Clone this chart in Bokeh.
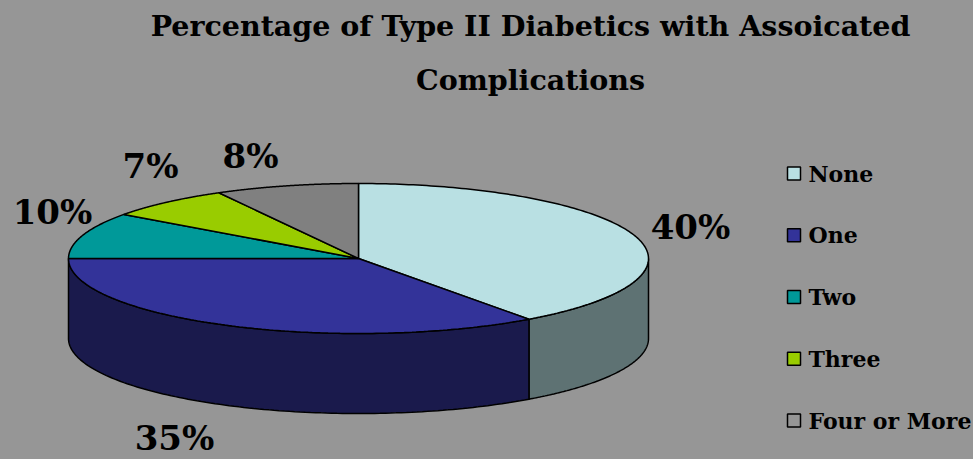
import numpy as np
from bokeh.plotting import figure
from bokeh.models import Range1d
from bokeh.core.properties import value
from bokeh.embed import file_html
from bokeh.resources import INLINE

# ---- data ----
categories = ["None", "One", "Two", "Three", "Four or More"]
values = [40, 35, 10, 7, 8]
pct_labels = ["40%", "35%", "10%", "7%", "8%"]

# ---- styling / layout ----
top_colors = ["#B9E0E3", "#333399", "#009999", "#99CC00", "#808080"]
side_colors = ["#5E7273", "#1A1A4C", "#004C4C", "#4C6600", "#404040"]
legend_colors = ["#B9E0E3", "#333399", "#009999", "#99CC00", "#969696"]
BG = "#969696"
FONT = value("DejaVu Serif")

W, H = 973, 459
cx, cy, rx, ry, depth = 358.0, 258.0, 290.0, 75.0, 80.0
label_pos = [(690, 226), (174, 437), (52, 211), (150, 165), (250, 155)]

p = figure(width=W, height=H, output_backend="svg", toolbar_location=None,
           x_range=Range1d(0, W), y_range=Range1d(H, 0),
           min_border=0, outline_line_color=None,
           background_fill_color=BG, border_fill_color=BG)
p.axis.visible = False
p.grid.visible = False

def ept(t, dy=0.0):
    return cx + rx * np.sin(t), cy - ry * np.cos(t) + dy

total = float(sum(values))
fr = np.cumsum([0.0] + [v / total for v in values])
angles = fr * 2 * np.pi

# side walls (front half: pi/2 .. 3pi/2)
sx, sy, sc = [], [], []
for i in range(len(values)):
    a = max(angles[i], np.pi / 2)
    b = min(angles[i + 1], 3 * np.pi / 2)
    if b > a:
        t = np.linspace(a, b, 120)
        x1, y1 = ept(t)
        x2, y2 = ept(t[::-1], depth)
        sx.append(list(x1) + list(x2))
        sy.append(list(y1) + list(y2))
        sc.append(side_colors[i])
p.patches(sx, sy, fill_color=sc, line_color="black", line_width=1.5)

# top slices
tx, ty = [], []
for i in range(len(values)):
    t = np.linspace(angles[i], angles[i + 1], 160)
    x, y = ept(t)
    tx.append([cx] + list(x))
    ty.append([cy] + list(y))
p.patches(tx, ty, fill_color=top_colors, line_color="black", line_width=1.5)

# percentage labels
p.text(x=[q[0] for q in label_pos], y=[q[1] for q in label_pos], text=pct_labels,
       text_font=FONT, text_font_style="bold", text_font_size="34px",
       text_align="center", text_baseline="middle", text_color="black")

# title
p.text(x=[530, 530], y=[25, 79],
       text=["Percentage of Type II Diabetics with Assoicated", "Complications"],
       text_font=FONT, text_font_style="bold", text_font_size="28.5px",
       text_align="center", text_baseline="middle", text_color="black")

# legend
ly = [173 + 61.75 * i for i in range(len(categories))]
p.rect(x=[793.5] * len(categories), y=ly, width=13, height=13,
       fill_color=legend_colors, line_color="black", line_width=1.5)
p.text(x=[808] * len(categories), y=ly, text=categories,
       text_font=FONT, text_font_style="bold", text_font_size="22px",
       text_align="left", text_baseline="middle", text_color="black")

html = file_html(p, INLINE)
html = html.replace("</head>",
                    "<style>html, body{background-color:%s !important;}</style></head>" % BG, 1)
open("out.html", "w").write(html)
